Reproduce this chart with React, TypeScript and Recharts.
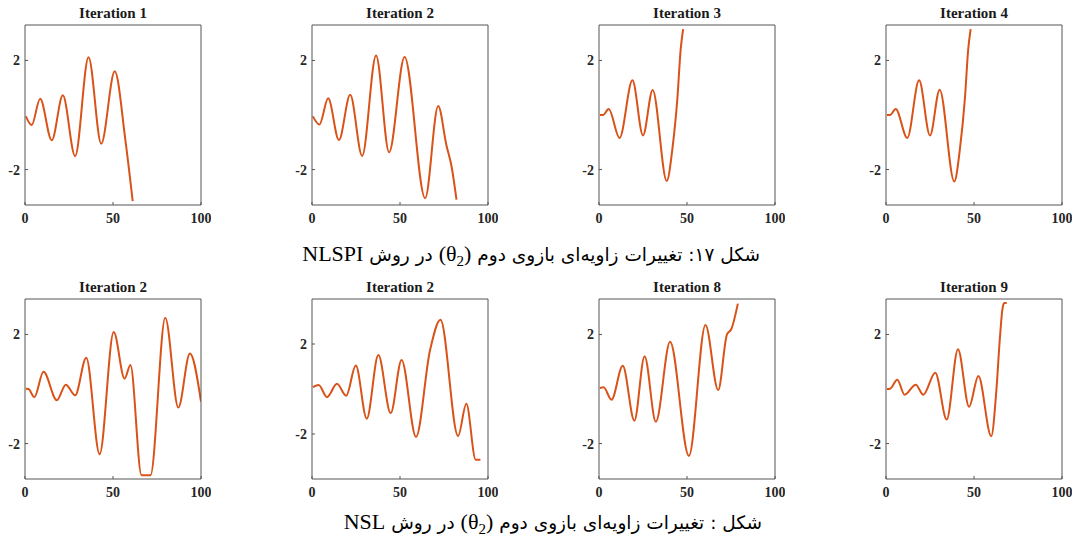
import React from 'react';
import { LineChart, Line, XAxis, YAxis } from 'recharts';

// NLSPI row (top)
const nlspi1T = [0.5, 3.8, 8.6, 15.2, 21.5, 28.5, 36.1, 43.3, 51, 57, 61.2];
const nlspi1V = [-0.05, -0.37, 0.6, -0.93, 0.72, -1.51, 2.12, -1.05, 1.6, -0.9, -3.16];

const nlspi2T = [0.5, 4.2, 9.2, 15.3, 21.7, 28.5, 36.4, 43.8, 52.6, 64.3, 71.7, 76.4, 79.2, 82.1];
const nlspi2V = [-0.05, -0.35, 0.61, -0.92, 0.74, -1.5, 2.18, -1.37, 2.13, -3.05, 0.33, -1.12, -1.85, -3.1];

const nlspi3T = [0.5, 2.3, 5.5, 11.7, 19, 25, 30.5, 38.5, 41.7, 44.5, 46.4, 47.8];
const nlspi3V = [0, 0, 0.22, -0.84, 1.27, -0.75, 0.92, -2.42, -1.24, 0.58, 2.4, 3.15];

const nlspi4T = [0.5, 2.3, 5.5, 12.1, 18.8, 25, 30.5, 38.8, 42, 44.8, 46.7, 48.1];
const nlspi4V = [0, 0, 0.22, -0.84, 1.27, -0.75, 0.93, -2.44, -1.24, 0.58, 2.4, 3.15];

// NSL row (bottom)
const nsl1T = [0.5, 2, 5.3, 10.5, 18.1, 23.2, 28.5, 34.8, 42.4, 50.4, 56.6, 59.9, 66.2, 71.3, 79.7, 87.1, 93.7, 100];
const nsl1V = [0.01, 0, -0.3, 0.63, -0.41, 0.16, -0.23, 1.15, -2.39, 2.09, 0.38, 0.88, -3.16, -3.16, 2.61, -0.68, 1.3, -0.46];

const nsl2T = [0.5, 3.8, 8.5, 14.2, 19.4, 24.9, 31.1, 37.7, 44.7, 50.9, 59.1, 67, 73, 83, 87.7, 93, 95.7];
const nsl2V = [0.08, 0.18, -0.36, 0.23, -0.3, 1.04, -1.32, 1.51, -1.07, 1.29, -2.13, 1.7, 3.08, -2.09, -0.66, -3.14, -3.14];

const nsl3T = [0.5, 2.6, 7.1, 13.5, 20.1, 25.9, 32.3, 40.4, 51.1, 60.5, 67.7, 72.7, 75.2, 78.9];
const nsl3V = [0.04, 0.06, -0.39, 0.85, -1.16, 1.2, -1.2, 1.73, -2.45, 2.35, -0.04, 2.0, 2.2, 3.13];

const nsl4T = [0.5, 2.3, 6.4, 10.6, 16.9, 21.2, 28, 34.5, 40.9, 47.2, 52.5, 59.8, 62.7, 64.6, 66.2, 67.2, 68.6];
const nsl4V = [0, 0.01, 0.34, -0.21, 0.16, -0.21, 0.6, -1.12, 1.46, -0.65, 0.48, -1.73, -0.06, 1.77, 2.95, 3.15, 3.15];

const titles = ['Iteration 1', 'Iteration 2', 'Iteration 3', 'Iteration 4', 'Iteration 2', 'Iteration 2', 'Iteration 8', 'Iteration 9'];
const xTicks = [0, 50, 100];
const yTicks = [-2, 2];

const LINE = '#D95319';
const AXIS = '#555555';
const SERIF = '"Liberation Serif", "Times New Roman", serif';

const BOX_W = 176;
const BOX_H = 180;
const LEFT_W = 40;
const RIGHT_W = 10;
const TOP_H = 10;
const BOTTOM_H = 30;

const colLeft = [25, 312, 599, 886];
const rowTop = [25, 299];

interface PanelProps {
  title: string;
  t: number[];
  v: number[];
  left: number;
  top: number;
  yLim: number;
}

const Panel = ({ title, t, v, left, top, yLim }: PanelProps) => {
  const data = t.map((x, i) => ({ x, y: v[i] }));
  const tickStyle = { fontFamily: SERIF, fontSize: 14, fontWeight: 'bold', fill: '#262626' };
  const domainY = [-yLim, yLim];
  return (
    <>
      <div
        style={{
          position: 'absolute',
          left,
          top: top - 19,
          width: BOX_W,
          textAlign: 'center',
          fontFamily: SERIF,
          fontWeight: 'bold',
          fontSize: 15,
          lineHeight: '15px',
          color: '#1a1a1a',
        }}
      >
        {title}
      </div>
      <div style={{ position: 'absolute', left: left - LEFT_W, top: top - TOP_H }}>
        <LineChart
          width={LEFT_W + BOX_W + RIGHT_W}
          height={TOP_H + BOX_H + BOTTOM_H}
          data={data}
          margin={{ top: 0, right: 0, bottom: 0, left: 0 }}
        >
          <XAxis
            xAxisId="b"
            dataKey="x"
            type="number"
            domain={[0, 100]}
            ticks={xTicks}
            interval={0}
            height={BOTTOM_H}
            tickSize={-3}
            tickMargin={11}
            stroke={AXIS}
            tick={tickStyle}
            allowDataOverflow
          />
          <XAxis
            xAxisId="t"
            orientation="top"
            type="number"
            domain={[0, 100]}
            ticks={xTicks}
            interval={0}
            height={TOP_H}
            tickSize={-3}
            tick={false}
            stroke={AXIS}
          />
          <YAxis
            yAxisId="l"
            type="number"
            domain={domainY}
            ticks={yTicks}
            interval={0}
            width={LEFT_W}
            tickSize={-3}
            tickMargin={8}
            stroke={AXIS}
            tick={tickStyle}
            allowDataOverflow
          />
          <YAxis
            yAxisId="r"
            orientation="right"
            type="number"
            domain={domainY}
            ticks={yTicks}
            interval={0}
            width={RIGHT_W}
            tickSize={-3}
            tick={false}
            stroke={AXIS}
          />
          <Line
            xAxisId="b"
            yAxisId="l"
            dataKey="y"
            type="monotone"
            stroke={LINE}
            strokeWidth={2}
            dot={false}
            isAnimationActive={false}
          />
        </LineChart>
      </div>
    </>
  );
};

const captionStyle: React.CSSProperties = {
  position: 'absolute',
  whiteSpace: 'nowrap',
  fontFamily: '"DejaVu Sans", sans-serif',
  fontSize: 18.5,
  lineHeight: '26px',
  color: '#000',
};
const latin: React.CSSProperties = { fontFamily: SERIF, fontSize: 22 };

export default function App() {
  const series = [
    [nlspi1T, nlspi1V],
    [nlspi2T, nlspi2V],
    [nlspi3T, nlspi3V],
    [nlspi4T, nlspi4V],
    [nsl1T, nsl1V],
    [nsl2T, nsl2V],
    [nsl3T, nsl3V],
    [nsl4T, nsl4V],
  ];
  return (
    <div style={{ position: 'relative', width: 1075, height: 540, background: '#fff', overflow: 'hidden' }}>
      <style>{'body{margin:0}'}</style>
      {series.map(([t, v], i) => (
        <Panel
          key={i}
          title={titles[i]}
          t={t}
          v={v}
          left={colLeft[i % 4]}
          top={rowTop[Math.floor(i / 4)]}
          yLim={i === 5 ? 4 : 3.3}
        />
      ))}
      <div dir="rtl" style={{ ...captionStyle, right: 1075 - 760, top: 241 }}>
        شکل ۱۷: تغییرات زاویه‌ای بازوی دوم{' '}
        <span dir="ltr" style={{ ...latin, unicodeBidi: 'isolate' }}>
          (θ<sub style={{ fontSize: 15 }}>2</sub>)
        </span>{' '}
        در روش <span style={latin}>NLSPI</span>
      </div>
      <div dir="rtl" style={{ ...captionStyle, right: 1075 - 762, top: 509 }}>
        شکل : تغییرات زاویه‌ای بازوی دوم{' '}
        <span dir="ltr" style={{ ...latin, unicodeBidi: 'isolate' }}>
          (θ<sub style={{ fontSize: 15 }}>2</sub>)
        </span>{' '}
        در روش <span style={latin}>NSL</span>
      </div>
    </div>
  );
}
